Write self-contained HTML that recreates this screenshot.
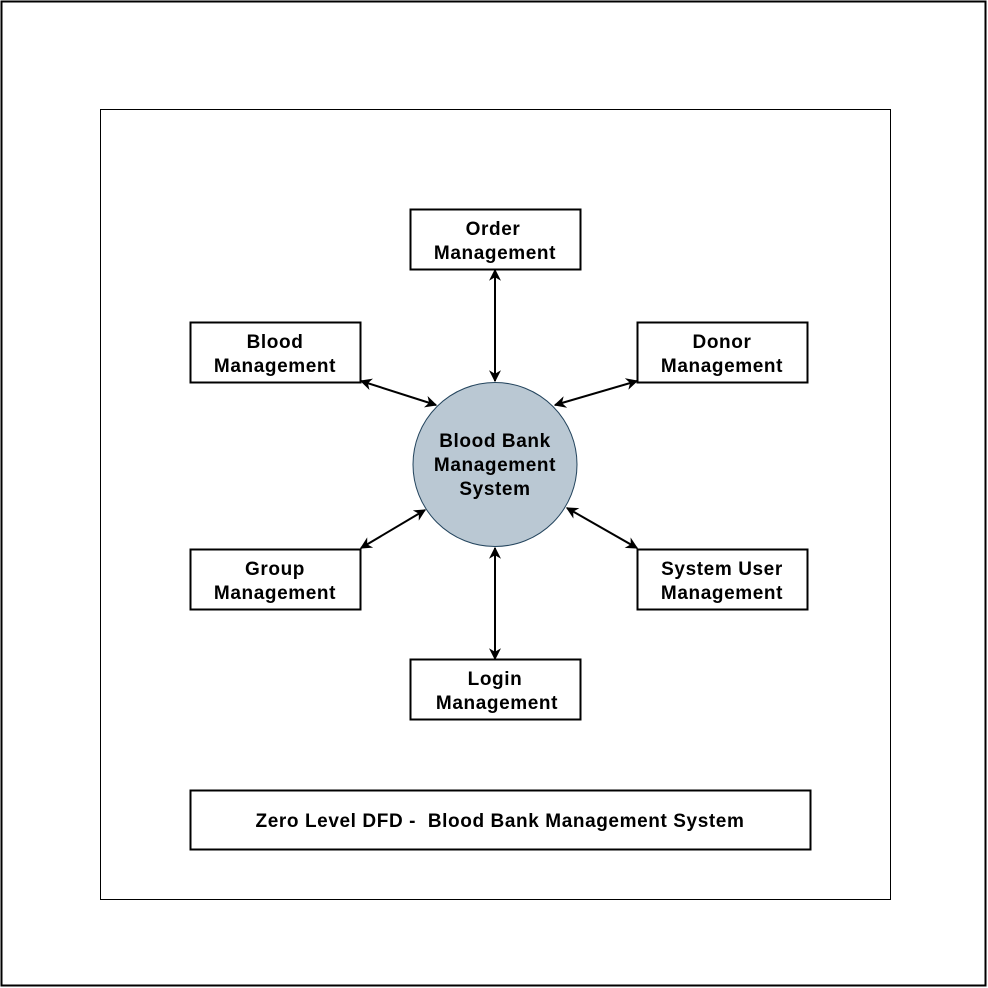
<!DOCTYPE html>
<html><head><meta charset="utf-8"><style>html,body{margin:0;padding:0;background:#fff}svg{display:block}</style></head>
<body>
<svg width="988" height="988" viewBox="0 0 988 988" xmlns="http://www.w3.org/2000/svg" font-family="Liberation Sans, Arial, sans-serif" font-weight="bold" font-size="19" letter-spacing="0.6" text-anchor="middle">
<defs>
<marker id="a" viewBox="0 0 10 10" refX="9" refY="5" markerWidth="12" markerHeight="12" markerUnits="userSpaceOnUse" orient="auto-start-reverse">
<path d="M0,0 L10,5 L0,10 L3,5 z" fill="#000"/>
</marker>
</defs>
<rect x="1.5" y="1.5" width="984" height="984" fill="#fff" stroke="#000" stroke-width="2"/>
<rect x="100.5" y="109.5" width="790" height="790" fill="#fff" stroke="#000" stroke-width="1"/>
<g stroke="#000" stroke-width="2" fill="none" marker-start="url(#a)" marker-end="url(#a)">
<line x1="495" y1="270" x2="495" y2="381"/>
<line x1="361" y1="381" x2="436" y2="405"/>
<line x1="637" y1="381" x2="555" y2="405"/>
<line x1="361" y1="548" x2="425" y2="510"/>
<line x1="637" y1="548" x2="567" y2="508"/>
<line x1="495" y1="659" x2="495" y2="548"/>
</g>
<circle cx="495" cy="464.5" r="82" fill="#bac8d3" stroke="#23445d" stroke-width="1"/>
<g fill="#fff" stroke="#000" stroke-width="2">
<rect x="410.5" y="209.5" width="170" height="60"/>
<rect x="190.5" y="322.5" width="170" height="60"/>
<rect x="637.5" y="322.5" width="170" height="60"/>
<rect x="190.5" y="549.5" width="170" height="60"/>
<rect x="637.5" y="549.5" width="170" height="60"/>
<rect x="410.5" y="659.5" width="170" height="60"/>
<rect x="190.5" y="790.5" width="620" height="59"/>
</g>
<g fill="#000">
<text x="495" y="447">Blood Bank</text><text x="495" y="471">Management</text><text x="495" y="495">System</text>
<text x="493" y="235">Order</text><text x="495" y="259">Management</text>
<text x="275" y="348">Blood</text><text x="275" y="372">Management</text>
<text x="722" y="348">Donor</text><text x="722" y="372">Management</text>
<text x="275" y="575">Group</text><text x="275" y="599">Management</text>
<text x="722" y="575">System User</text><text x="722" y="599">Management</text>
<text x="495" y="685">Login</text><text x="497" y="709">Management</text>
<text x="500" y="827" xml:space="preserve">Zero Level DFD -  Blood Bank Management System</text>
</g>
</svg>
</body></html>
